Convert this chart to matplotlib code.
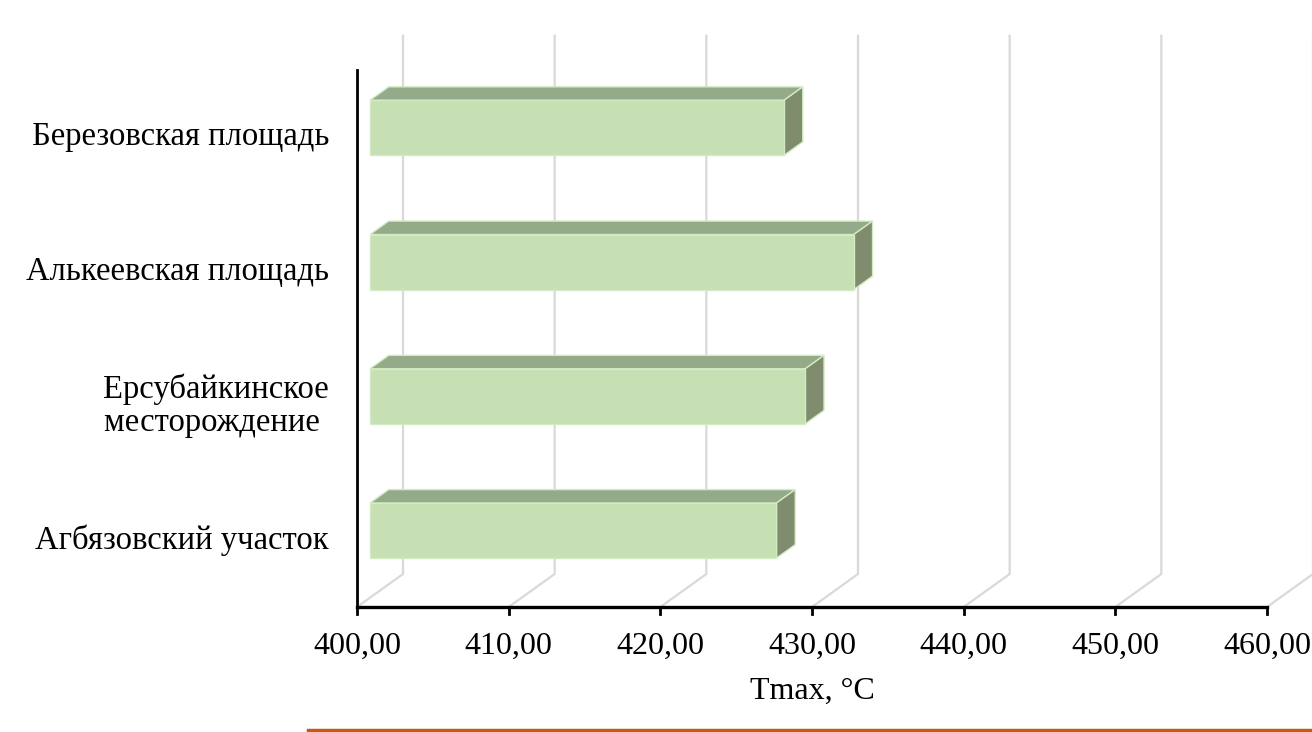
#!/usr/bin/env python3
# -*- coding: utf-8 -*-
# Tmax by area: horizontal bars drawn with a simple oblique 3D look
import matplotlib
matplotlib.use('Agg')
import matplotlib.pyplot as plt
from matplotlib.lines import Line2D

plt.rcParams['font.family'] = ['Liberation Serif', 'DejaVu Serif']

# bottom to top
areas = [
    'Агбязовский участок',
    'Ерсубайкинское\nместорождение ',
    'Алькеевская площадь',
    'Березовская площадь',
]
tmax = [426.8, 428.7, 431.9, 427.3]

x_ticks = [400, 410, 420, 430, 440, 450, 460]
x_min, x_max = 400, 460
x_label = 'Tmax, °C'

W, H = 1312, 732
fig = plt.figure(figsize = (W / 100, H / 100), dpi = 100)

# front plane of the plot area, in pixels (top-left origin)
left_px, right_px = 357, 1267
floor_px, top_px = 607, 70
n = len(areas)
ax = fig.add_axes([left_px / W, (H - floor_px) / H,
                   (right_px - left_px) / W, (floor_px - top_px) / H])
ax.set_xlim(x_min, x_max)
ax.set_ylim(0, n)
ax.axis('off')

ux = (x_max - x_min) / (right_px - left_px)   # data units per pixel
uy = n / (floor_px - top_px)

# depth shift of the back wall, pixels
DEPTH_X, DEPTH_Y = 46, 33

def proj(v, c, d):
    """value, category position, depth (0 front .. 1 back) -> data coords"""
    return v + d * DEPTH_X * ux, c + d * DEPTH_Y * uy

grid_col = '#d9d9d9'
wall_top = n + 0.01

# floor diagonals and back wall grid
for t in x_ticks:
    x0, y0 = proj(t, 0, 0)
    x1, y1 = proj(t, 0, 1)
    x2, y2 = proj(t, wall_top, 1)
    ax.plot([x0, x1, x2], [y0, y1, y2], color = grid_col, lw = 1.6,
            clip_on = False, zorder = 1, solid_joinstyle = 'miter')

# axis lines
ax.plot([x_min, x_min], [0, n], color = 'black', lw = 2.0, clip_on = False, zorder = 3)
ax.plot([x_min, x_max], [0, 0], color = 'black', lw = 2.4, clip_on = False, zorder = 3)
tick_len = 7 * uy
for t in x_ticks:
    ax.plot([t, t], [0, -tick_len], color = 'black', lw = 2.0, clip_on = False, zorder = 3)
    ax.text(t, -39 * uy, '{:.2f}'.format(t).replace('.', ','), ha = 'center', va = 'center',
            fontsize = 23, color = 'black')

ax.text((x_min + x_max) / 2, -84 * uy, x_label, ha = 'center', va = 'center',
        fontsize = 23, color = 'black')

# bars
front_col = '#c6e0b4'
top_col = '#94aa88'
side_col = '#7f8c6e'
edge_col = '#d3ebc4'
bar_h = 0.41
d_front, d_back = 0.283, 0.69

for i, (name, v) in enumerate(zip(areas, tmax)):
    c = i + 0.5
    lo, hi = c - bar_h / 2, c + bar_h / 2

    fl = proj(x_min, lo, d_front)
    fr = proj(v, lo, d_front)
    tl = proj(x_min, hi, d_front)
    tr = proj(v, hi, d_front)
    btl = proj(x_min, hi, d_back)
    btr = proj(v, hi, d_back)
    bbr = proj(v, lo, d_back)

    # top face
    ax.fill([tl[0], tr[0], btr[0], btl[0]], [tl[1], tr[1], btr[1], btl[1]],
            facecolor = top_col, edgecolor = edge_col, lw = 1.0, clip_on = False, zorder = 4)
    # right side
    ax.fill([fr[0], tr[0], btr[0], bbr[0]], [fr[1], tr[1], btr[1], bbr[1]],
            facecolor = side_col, edgecolor = edge_col, lw = 1.0, clip_on = False, zorder = 4)
    # front face
    ax.fill([fl[0], fr[0], tr[0], tl[0]], [fl[1], fr[1], tr[1], tl[1]],
            facecolor = front_col, edgecolor = edge_col, lw = 1.0, clip_on = False, zorder = 5)

    ax.text(x_min - 28 * ux, c, name, ha = 'right', va = 'center', multialignment = 'center',
            fontsize = 23.5, color = 'black', linespacing = 1.1)

# rule along the bottom edge
fig.add_artist(Line2D([308 / W, 1.0], [1 - 730 / H, 1 - 730 / H], color = '#c55a11', lw = 2.5))

fig.savefig('out.png', dpi = 100, facecolor = 'white')
